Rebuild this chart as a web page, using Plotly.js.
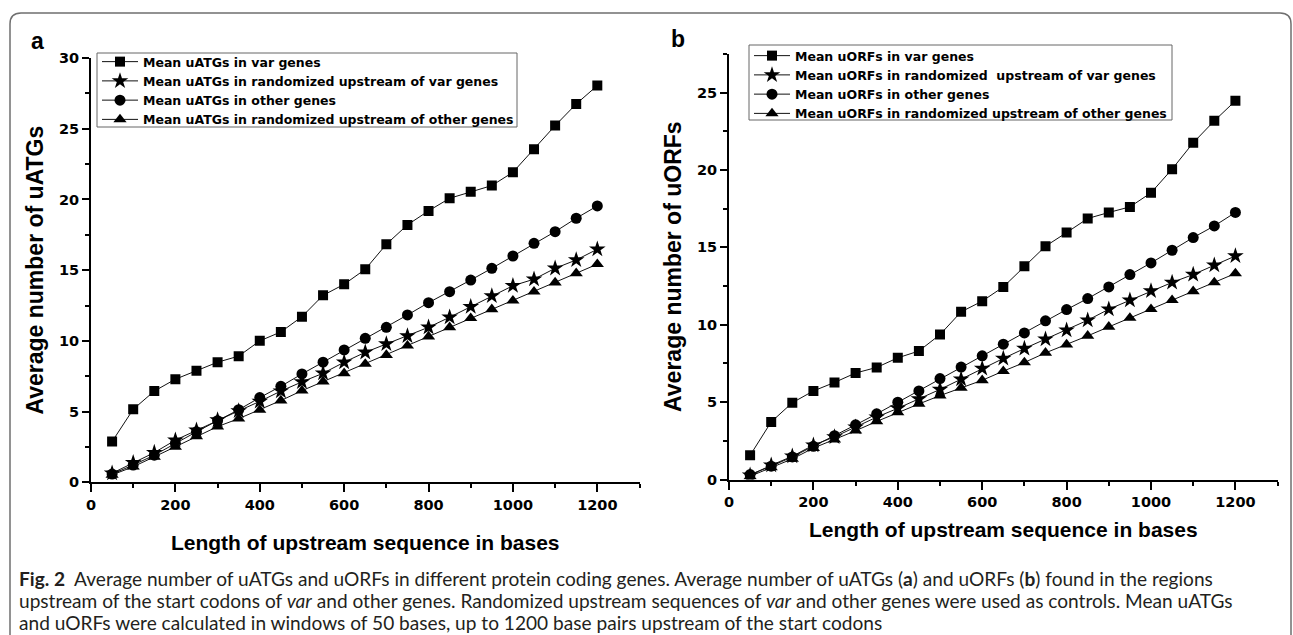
<!DOCTYPE html>
<html>
<head>
<meta charset="utf-8">
<script src="https://cdn.plot.ly/plotly-3.0.1.min.js"></script>
<style>
  html, body { margin: 0; padding: 0; background: #fff; overflow: hidden; }
  #chart { width: 1293px; height: 635px; }
</style>
</head>
<body>
<div id="chart"></div>
<script>
// ---- data ----
const lengths = [50, 100, 150, 200, 250, 300, 350, 400, 450, 500, 550, 600,
                 650, 700, 750, 800, 850, 900, 950, 1000, 1050, 1100, 1150, 1200];

// panel a: uATGs
const uatgVar      = [2.88, 5.16, 6.45, 7.29, 7.89, 8.49, 8.92, 10.0, 10.63, 11.71, 13.22, 14.0,
                      15.06, 16.83, 18.2, 19.19, 20.08, 20.55, 20.98, 21.92, 23.55, 25.22, 26.75, 28.05];
const uatgVarRand  = [0.64, 1.39, 2.1, 2.98, 3.68, 4.4, 5.05, 5.72, 6.45, 7.1, 7.71, 8.49,
                      9.19, 9.78, 10.35, 10.96, 11.67, 12.42, 13.18, 13.9, 14.36, 15.13, 15.72, 16.48];
const uatgOther    = [0.58, 1.22, 1.92, 2.76, 3.57, 4.36, 5.13, 5.99, 6.79, 7.66, 8.49, 9.36,
                      10.18, 10.96, 11.83, 12.7, 13.48, 14.3, 15.13, 16.0, 16.9, 17.72, 18.67, 19.54];
const uatgOtherRand= [0.52, 1.1, 1.8, 2.5, 3.24, 3.94, 4.5, 5.12, 5.78, 6.48, 7.12, 7.71,
                      8.37, 9.0, 9.66, 10.3, 10.96, 11.6, 12.23, 12.84, 13.48, 14.12, 14.78, 15.42];

// panel b: uORFs
const uorfVar      = [1.56, 3.72, 4.96, 5.72, 6.27, 6.88, 7.24, 7.86, 8.3, 9.36, 10.83, 11.52,
                      12.44, 13.78, 15.07, 15.95, 16.86, 17.25, 17.61, 18.52, 20.05, 21.75, 23.17, 24.46];
const uorfVarRand  = [0.28, 0.92, 1.5, 2.22, 2.75, 3.38, 4.03, 4.6, 5.2, 5.82, 6.48, 7.17,
                      7.82, 8.46, 9.06, 9.64, 10.29, 11.0, 11.58, 12.18, 12.73, 13.24, 13.84, 14.44];
const uorfOther    = [0.32, 0.86, 1.46, 2.14, 2.83, 3.53, 4.24, 4.99, 5.72, 6.52, 7.26, 7.99,
                      8.74, 9.47, 10.25, 10.98, 11.69, 12.44, 13.24, 13.99, 14.81, 15.63, 16.38, 17.25];
const uorfOtherRand= [0.21, 0.79, 1.33, 2.03, 2.57, 3.15, 3.75, 4.33, 4.88, 5.42, 5.92, 6.41,
                      7.0, 7.56, 8.18, 8.72, 9.28, 9.86, 10.44, 11.0, 11.58, 12.16, 12.73, 13.31];

const namesA = ["Mean uATGs in var genes",
                "Mean uATGs in randomized upstream of var genes",
                "Mean uATGs in other genes",
                "Mean uATGs in randomized upstream of other genes"];
const namesB = ["Mean uORFs in var genes",
                "Mean uORFs in randomized\u00a0 upstream of var genes",
                "Mean uORFs in other genes",
                "Mean uORFs in randomized upstream of other genes"];

const xTitle  = "Length of upstream sequence in bases";
const yTitleA = "Average number of uATGs";
const yTitleB = "Average number of uORFs";

const captionLines = [
  "<b>Fig. 2</b>\u00a0\u00a0Average number of uATGs and uORFs in different protein coding genes. Average number of uATGs (<b>a</b>) and uORFs (<b>b</b>) found in the regions",
  "upstream of the start codons of <i>var</i> and other genes. Randomized upstream sequences of <i>var</i> and other genes were used as controls. Mean uATGs",
  "and uORFs were calculated in windows of 50 bases, up to 1200 base pairs upstream of the start codons"
];

// ---- styling ----
const W = 1293, H = 635;
const px = v => v / W;
const py = v => 1 - v / H;

const symbols = ["square", "star", "circle", "triangle-up"];
const sizes   = [10, 12.5, 11, 11.5];

function mk(yv, i, name, xa, ya, lg) {
  return {
    type: "scatter", mode: "lines+markers",
    x: lengths, y: yv, name: name,
    xaxis: xa, yaxis: ya, legend: lg,
    line: { color: "#111", width: 1 },
    marker: { symbol: symbols[i], size: sizes[i], color: "#000" },
    hoverinfo: "x+y"
  };
}

const data = [
  mk(uatgVar, 0, namesA[0], "x", "y", "legend"),
  mk(uatgVarRand, 1, namesA[1], "x", "y", "legend"),
  mk(uatgOther, 2, namesA[2], "x", "y", "legend"),
  mk(uatgOtherRand, 3, namesA[3], "x", "y", "legend"),
  mk(uorfVar, 0, namesB[0], "x2", "y2", "legend2"),
  mk(uorfVarRand, 1, namesB[1], "x2", "y2", "legend2"),
  mk(uorfOther, 2, namesB[2], "x2", "y2", "legend2"),
  mk(uorfOtherRand, 3, namesB[3], "x2", "y2", "legend2")
];

const tickFont  = { family: "DejaVu Sans", size: 14.5, weight: "bold", color: "#000" };
const titleFont = { family: "Liberation Sans, Arial, sans-serif", size: 21, weight: "bold", color: "#000" };
const legFont   = { family: "DejaVu Sans", size: 12.5, weight: "bold", color: "#000" };

function xAxis(domain, anchor, standoff) {
  return {
    domain: domain, anchor: anchor, range: [0, 1300],
    tick0: 0, dtick: 200, ticks: "outside", ticklen: 8, tickwidth: 2, tickcolor: "#000",
    minor: { dtick: 100, tick0: 0, ticks: "outside", ticklen: 4, tickwidth: 2, tickcolor: "#000", showgrid: false },
    showline: true, linewidth: 2, linecolor: "#000", showgrid: false, zeroline: false,
    tickfont: tickFont, automargin: false,
    title: { text: xTitle, font: titleFont, standoff: standoff }
  };
}
function yAxis(domain, anchor, top, title, standoff) {
  return {
    domain: domain, anchor: anchor, range: [0, top],
    tick0: 0, dtick: 5, ticks: "outside", ticklen: 7, tickwidth: 2, tickcolor: "#000",
    minor: { dtick: 2.5, tick0: 0, ticks: "outside", ticklen: 4, tickwidth: 2, tickcolor: "#000", showgrid: false },
    showline: true, linewidth: 2, linecolor: "#000", showgrid: false, zeroline: false,
    tickfont: tickFont, automargin: false,
    title: { text: title, font: Object.assign({}, titleFont, { size: 23 }), standoff: standoff }
  };
}

// legend: entries placed so the first row sits where the reference has it;
// its frame is drawn as a separate rectangle to match the reference box
function legendBox(left, top) {
  return {
    x: px(left), y: py(top), xanchor: "left", yanchor: "top",
    bgcolor: "rgba(0,0,0,0)", borderwidth: 0,
    font: legFont, itemwidth: 36, tracegroupgap: 0, traceorder: "normal"
  };
}

const r = 11;
const borderPath =
  "M " + px(10) + "," + py(700) +
  " L " + px(10) + "," + py(13 + r) +
  " Q " + px(10) + "," + py(13) + " " + px(10 + r) + "," + py(13) +
  " L " + px(1291 - r) + "," + py(13) +
  " Q " + px(1291) + "," + py(13) + " " + px(1291) + "," + py(13 + r) +
  " L " + px(1291) + "," + py(700);

function frame(x0, y0, x1, y1) {
  return { type: "rect", xref: "paper", yref: "paper",
           x0: px(x0), x1: px(x1), y0: py(y1), y1: py(y0),
           line: { color: "#666", width: 1 }, fillcolor: "#fff", layer: "below" };
}

const capY = [578, 600, 622];
const annotations = [
  { text: "<b>a</b>", x: px(37), y: py(41), xref: "paper", yref: "paper", showarrow: false,
    xanchor: "center", yanchor: "middle", font: { family: "Liberation Sans, Arial", size: 23, color: "#000" } },
  { text: "<b>b</b>", x: px(678), y: py(39), xref: "paper", yref: "paper", showarrow: false,
    xanchor: "center", yanchor: "middle", font: { family: "Liberation Sans, Arial", size: 23, color: "#000" } }
].concat(captionLines.map((t, i) => ({
  text: t, x: px(17), y: py(capY[i]), xref: "paper", yref: "paper", showarrow: false,
  xanchor: "left", yanchor: "middle", align: "left",
  font: { family: "Lato", size: 19.1, color: "#231f20" }
})));

const layout = {
  width: W, height: H,
  margin: { l: 0, r: 0, t: 0, b: 0, pad: 0 },
  paper_bgcolor: "#fff", plot_bgcolor: "rgba(0,0,0,0)",
  showlegend: true,
  font: { family: "DejaVu Sans", color: "#000" },
  xaxis:  xAxis([px(91), px(639.5)], "y", 24),
  yaxis:  yAxis([py(482.3), py(58)], "x", 30, yTitleA, 9),
  xaxis2: xAxis([px(729), px(1277.6)], "y2", 13),
  yaxis2: yAxis([py(479.5), py(53.8)], "x2", 27.5, yTitleB, 9),
  legend:  legendBox(97, 47),
  legend2: legendBox(749, 41),
  shapes: [
    frame(97, 53, 517, 127),
    frame(749, 45, 1172, 120),
    { type: "path", xref: "paper", yref: "paper", path: borderPath,
      line: { color: "#6f6f6f", width: 1.5 }, layer: "above" }
  ],
  annotations: annotations
};

Plotly.newPlot("chart", data, layout, { staticPlot: true, displayModeBar: false });
</script>
</body>
</html>
